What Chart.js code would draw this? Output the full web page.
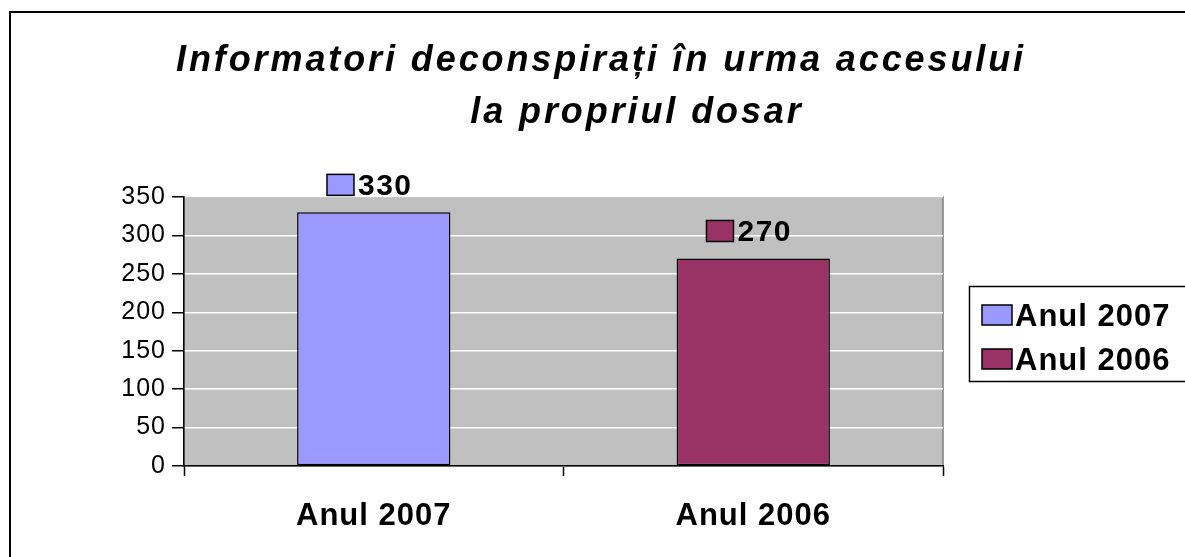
<!DOCTYPE html>
<html>
<head>
<meta charset="utf-8">
<script src="https://cdn.jsdelivr.net/npm/chart.js@4.4.0/dist/chart.umd.min.js"></script>
<style>
    html, body { margin: 0; padding: 0; background: #ffffff; }
    #wrap { position: relative; width: 1185px; height: 557px; overflow: hidden; }
</style>
</head>
<body>
<div id="wrap"><canvas id="barChartInformatori" width="1185" height="557"></canvas></div>
<script>
// chart data
var titleLines = ["Informatori deconspirați în urma accesului", "la propriul dosar"];
var categories = ["Anul 2007", "Anul 2006"];
var values = [330, 270];
var barColors = ["#9999FF", "#993366"];
var yTicks = [0, 50, 100, 150, 200, 250, 300, 350];

var FONT = "'Liberation Sans', Arial, sans-serif";
var SPACING = "1px";

/*letter spacing, like the old office renderer*/
var spacingPlugin = {
    id: 'spacing',
    beforeLayout: function (chart) { chart.ctx.letterSpacing = SPACING; },
    beforeDraw: function (chart) { chart.ctx.letterSpacing = SPACING; }
};

/*frame, plot background, title, legend*/
var framePlugin = {
    id: 'frame',
    beforeDraw: function (chart) {
        var ctx = chart.ctx;
        var a = chart.chartArea;
        ctx.save();
        ctx.fillStyle = '#ffffff';
        ctx.fillRect(0, 0, chart.width, chart.height);
        ctx.strokeStyle = '#000000';
        ctx.lineWidth = 2;
        ctx.strokeRect(10, 12, chart.width + 20, chart.height + 20);
        ctx.fillStyle = '#C0C0C0';
        ctx.fillRect(a.left, a.top, a.right - a.left, a.bottom - a.top);
        ctx.strokeStyle = '#808080';
        ctx.lineWidth = 1.5;
        ctx.strokeRect(a.left, a.top, a.right - a.left, a.bottom - a.top);
        // title
        ctx.fillStyle = '#000000';
        ctx.font = "italic bold 36px " + FONT;
        ctx.letterSpacing = "2.9px";
        ctx.textAlign = 'center';
        ctx.textBaseline = 'alphabetic';
        ctx.fillText(titleLines[0], 601, 71);
        ctx.fillText(titleLines[1], 637, 123);
        ctx.restore();
    },
    afterDraw: function (chart) {
        // legend box
        var ctx = chart.ctx;
        ctx.save();
        ctx.strokeStyle = '#000000';
        ctx.lineWidth = 1.5;
        ctx.strokeRect(969.5, 286.5, 230, 95);
        ctx.font = "bold 31px " + FONT;
        ctx.letterSpacing = "1px";
        ctx.textAlign = 'left';
        ctx.textBaseline = 'alphabetic';
        $each(categories, function (i, c) {
            var top = 305 + i * 44;
            ctx.fillStyle = barColors[i];
            ctx.fillRect(982, top, 30, 20);
            ctx.strokeStyle = '#000000';
            ctx.strokeRect(982, top, 30, 20);
            ctx.fillStyle = '#000000';
            ctx.fillText(c, 1015, top + 21);
        });
        ctx.restore();
    }
};

/*value labels with a colour key*/
var valueLabelPlugin = {
    id: 'valueLabels',
    afterDatasetsDraw: function (chart) {
        var ctx = chart.ctx;
        var meta = chart.getDatasetMeta(0);
        ctx.save();
        ctx.font = "bold 30px " + FONT;
        ctx.letterSpacing = "1.5px";
        ctx.textAlign = 'left';
        ctx.textBaseline = 'alphabetic';
        $each(meta.data, function (i, bar) {
            var txt = String(values[i]);
            var w = ctx.measureText(txt).width;
            var total = 27 + 4 + w;
            var x0 = bar.x - total / 2 - 4;
            var base = bar.y - 17;
            ctx.fillStyle = barColors[i];
            ctx.fillRect(x0, base - 21, 27, 21);
            ctx.strokeStyle = '#000000';
            ctx.lineWidth = 1.5;
            ctx.strokeRect(x0, base - 21, 27, 21);
            ctx.fillStyle = '#000000';
            ctx.fillText(txt, x0 + 31, base);
        });
        ctx.restore();
    }
};
function $each(arr, fn) { for (var i = 0; i < arr.length; i++) fn(i, arr[i]); }

var chartDiv = document.getElementById("barChartInformatori");
var myChart = new Chart(chartDiv, {
    type: 'bar',
    data: {
        labels: categories,
        datasets: [{
            data: values,
            backgroundColor: barColors,
            borderColor: '#000000',
            borderWidth: 1.5,
            borderSkipped: false,
            categoryPercentage: 1,
            barPercentage: 0.404
        }]
    },
    options: {
        responsive: false,
        animation: false,
        devicePixelRatio: 1,
        layout: { padding: { top: 197, left: 0, right: 242, bottom: 0 } },
        plugins: {
            title: { display: false },
            tooltip: { enabled: false },
            legend: { display: false }
        },
        scales: {
            x: {
                grid: {
                    offset: true,
                    drawOnChartArea: false,
                    drawTicks: true,
                    tickLength: 10,
                    tickColor: '#000000',
                    tickWidth: 1.5
                },
                border: { display: true, color: '#000000', width: 1.5 },
                ticks: {
                    color: '#000000',
                    padding: 22,
                    font: { family: FONT, size: 31, weight: 'bold' }
                },
                afterFit: function (scale) { scale.height = 91; }
            },
            y: {
                min: 0,
                max: 350,
                afterBuildTicks: function (scale) {
                    scale.ticks = yTicks.map(function (v) { return { value: v }; });
                },
                grid: {
                    color: '#ffffff',
                    lineWidth: 1.5,
                    drawTicks: true,
                    tickLength: 12,
                    tickColor: '#000000',
                    tickWidth: 1.5
                },
                border: { display: true, color: '#000000', width: 1.5 },
                ticks: {
                    color: '#000000',
                    padding: 6,
                    font: { family: FONT, size: 25 }
                },
                afterFit: function (scale) { scale.width = 184; }
            }
        }
    },
    plugins: [spacingPlugin, framePlugin, valueLabelPlugin]
});
</script>
</body>
</html>
